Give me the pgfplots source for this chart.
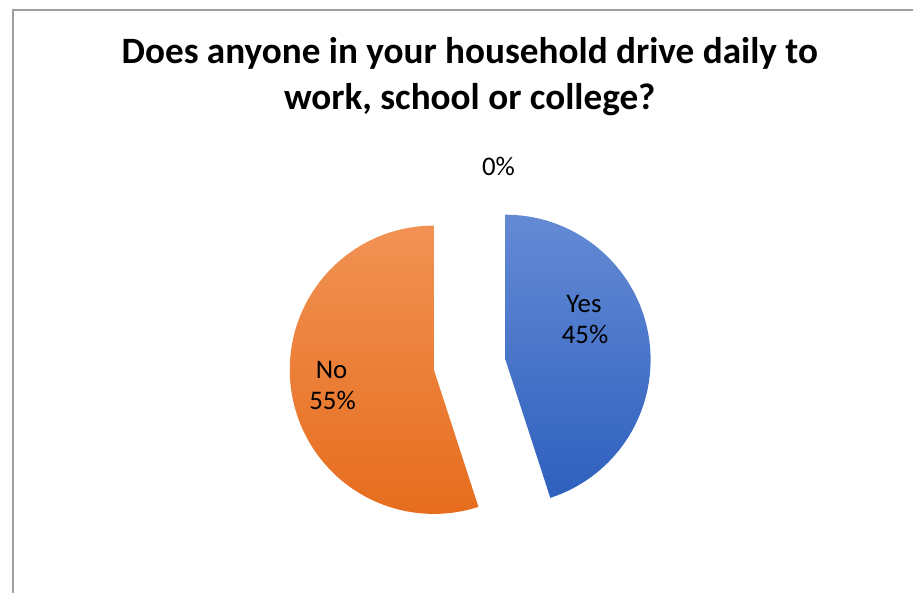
\documentclass[border=0pt]{standalone}
\usepackage{pgfplots}
\pgfplotsset{compat=1.18}
\usepackage{pgfplotstable}
\usepackage{fontspec}
\setmainfont{Carlito}
\definecolor{yestop}{RGB}{100,138,212}
\definecolor{yesmid}{RGB}{66,112,200}
\definecolor{yesbot}{RGB}{46,96,190}
\definecolor{notop}{RGB}{241,146,84}
\definecolor{nomid}{RGB}{244,125,42}
\definecolor{nobot}{RGB}{230,108,28}
\definecolor{framegray}{RGB}{160,160,160}

% category, percentage, slice centre (exploded), radius
\pgfplotstableread{
label value cx cy r
Yes 45 504 362 146
No 55 432 372 145
Blank 0 468 367 146
}\piedata

\begin{document}
\pgfplotstablegetelem{0}{value}\of\piedata \let\yesval\pgfplotsretval
\pgfplotstablegetelem{1}{value}\of\piedata \let\noval\pgfplotsretval
\pgfplotstablegetelem{2}{value}\of\piedata \let\zeroval\pgfplotsretval
\pgfmathsetmacro\yesend{90-3.6*\yesval}
\pgfmathsetmacro\noend{90+3.6*\noval}
\begin{tikzpicture}
\begin{axis}[scale only axis, width=914pt, height=597pt,
  xmin=0, xmax=914, ymin=0, ymax=597, y dir=reverse,
  hide axis, clip=false]
\fill[white] (axis cs:0,0) rectangle (axis cs:914,597);
\draw[framegray, line width=2pt] (axis cs:9,597) -- (axis cs:9,10) -- (axis cs:914,10);
% Yes slice
\shade[top color=yestop, middle color=yesmid, bottom color=yesbot]
  (axis cs:504,362) -- ++(90:146pt) arc[start angle=90, end angle=\yesend, radius=146pt] -- cycle;
% No slice
\shade[top color=notop, middle color=nomid, bottom color=nobot]
  (axis cs:432,372) -- ++(90:145pt) arc[start angle=90, end angle=\noend, radius=145pt] -- cycle;
% title
\node[anchor=base, font=\fontsize{37.4}{44}\selectfont\bfseries] at (axis cs:468,64) {Does anyone in your household drive daily to};
\node[anchor=base, font=\fontsize{37.4}{44}\selectfont\bfseries] at (axis cs:468,110) {work, school or college?};
% data labels
\node[anchor=base, font=\fontsize{27}{30}\selectfont] at (axis cs:583,314) {Yes};
\node[anchor=base, font=\fontsize{27}{30}\selectfont] at (axis cs:584,346) {\yesval\%};
\node[anchor=base, font=\fontsize{27}{30}\selectfont] at (axis cs:329,381) {No};
\node[anchor=base, font=\fontsize{27}{30}\selectfont] at (axis cs:330,412) {\noval\%};
\node[anchor=base, font=\fontsize{27}{30}\selectfont] at (axis cs:497,177) {\zeroval\%};
\end{axis}
\end{tikzpicture}
\end{document}
